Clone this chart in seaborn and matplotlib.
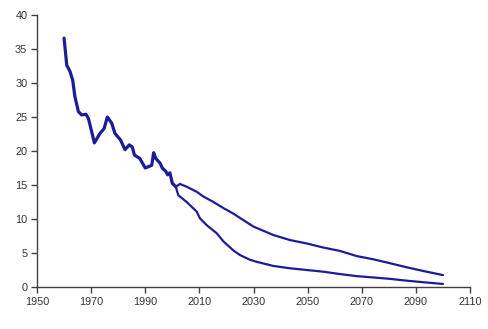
import matplotlib
matplotlib.use("Agg")
import matplotlib.pyplot as plt
import seaborn as sns
import pandas as pd

hist_years = [1960, 1961, 1962.2, 1963.2, 1964, 1965.3, 1966.5, 1968.1, 1969, 1971.2,
              1973.3, 1974.8, 1976, 1977.6, 1978.8, 1980.9, 1982.5, 1984.1, 1985.2, 1986,
              1988, 1990, 1992.4, 1993.1, 1993.9, 1995.5, 1996.3, 1997.6, 1998.3, 1999.1,
              2000, 2001.3]
hist_vals = [36.6, 32.6, 31.7, 30.4, 28.0, 25.8, 25.3, 25.4, 24.8, 21.2,
             22.6, 23.3, 25.0, 24.1, 22.6, 21.6, 20.2, 20.9, 20.6, 19.4,
             18.9, 17.5, 17.9, 19.75, 18.9, 18.2, 17.5, 17.0, 16.5, 16.8,
             15.25, 14.75]

high_years = [2001.3, 2002.8, 2005.3, 2009, 2011.5, 2015.2, 2018.9, 2022.5, 2026.2, 2029.9,
              2037.3, 2043.5, 2049.7, 2055.8, 2062, 2068.1, 2074.3, 2080.4, 2086.6, 2092.8, 2100]
high_vals = [14.75, 15.15, 14.75, 14.0, 13.3, 12.5, 11.6, 10.8, 9.85, 8.9,
             7.65, 6.9, 6.4, 5.8, 5.3, 4.55, 4.07, 3.5, 2.9, 2.35, 1.75]

low_years = [2001.3, 2001.6, 2002.2, 2005.3, 2009, 2010.2, 2012.7, 2016.4, 2018.9, 2022.5,
             2025, 2028.7, 2031.2, 2037.3, 2043.5, 2049.7, 2055.8, 2062, 2068.1, 2074.3,
             2080.4, 2086.6, 2092.8, 2100]
low_vals = [14.75, 14.3, 13.5, 12.5, 11.1, 10.1, 9.1, 7.9, 6.7, 5.4,
            4.7, 4.0, 3.7, 3.1, 2.75, 2.5, 2.25, 1.9, 1.6, 1.4,
            1.2, 0.93, 0.7, 0.45]

x_ticks = [1950, 1970, 1990, 2010, 2030, 2050, 2070, 2090, 2110]
y_ticks = [0, 5, 10, 15, 20, 25, 30, 35, 40]

df = pd.concat([
    pd.DataFrame({"year": hist_years, "value": hist_vals, "series": "hist"}),
    pd.DataFrame({"year": high_years, "value": high_vals, "series": "high"}),
    pd.DataFrame({"year": low_years, "value": low_vals, "series": "low"}),
], ignore_index=True)

sns.set_style("white")
plt.rcParams["font.family"] = ["Liberation Sans", "DejaVu Sans"]

fig = plt.figure(figsize=(4.89, 3.29), dpi=100)
ax = fig.add_axes([37 / 489, 1 - 287 / 329, 433 / 489, 272 / 329])
line_color = "#1c1c9a"
sns.lineplot(data=df, x="year", y="value", hue="series", size="series",
             palette={"hist": line_color, "high": line_color, "low": line_color},
             sizes={"hist": 2.3, "high": 1.6, "low": 1.6},
             legend=False, ax=ax, sort=False, estimator=None)

ax.set_xlim(1950, 2110)
ax.set_ylim(0, 40)
ax.set_xticks(x_ticks)
ax.set_yticks(y_ticks)
ax.set_xlabel("")
ax.set_ylabel("")
for s in ["top", "right"]:
    ax.spines[s].set_visible(False)
for s in ["left", "bottom"]:
    ax.spines[s].set_color("#404040")
    ax.spines[s].set_linewidth(1.0)
ax.tick_params(axis="both", direction="out", length=4, width=1.0, color="#404040",
               labelsize=7.8, labelcolor="#333333", left=True, bottom=True, pad=3)
ax.grid(False)

fig.savefig("out.png", dpi=100, facecolor="white")
